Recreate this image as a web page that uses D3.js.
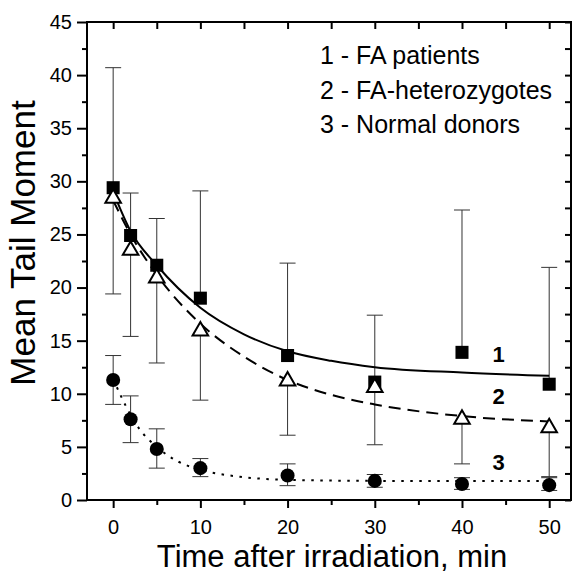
<!DOCTYPE html>
<html>
<head>
<meta charset="utf-8">
<script src="https://cdn.jsdelivr.net/npm/d3@7"></script>
<style>
  body { margin: 0; background: #fff; }
  svg { display: block; font-family: 'Liberation Sans', Arial, sans-serif; }
  .axis path { display: none; }
  .axis line { stroke: #000; stroke-width: 2; }
  .axis text { font-size: 20px; fill: #000; font-family: 'Liberation Sans', Arial, sans-serif; }
  .err { stroke: #333; stroke-width: 1; }
  .fit { fill: none; stroke: #000; stroke-width: 2; }
</style>
</head>
<body>
<script>
// ========== Data ==========
const times = [0, 2, 5, 10, 20, 30, 40, 50];

// 1 - FA patients (squares, bars drawn upward)
const faPatients      = [29.4, 24.9, 22.1, 19.0, 13.6, 11.1, 13.9, 10.9];
const faPatientsUpper = [40.7, 28.9, 26.5, 29.1, 22.3, 17.4, 27.3, 21.9];

// 2 - FA-heterozygotes (open triangles, bars drawn downward)
const faHeterozygotes      = [28.4, 23.5, 20.9, 15.9, 11.2, 10.6, 7.6, 6.8];
const faHeterozygotesLower = [19.4, 15.4, 12.9, 9.4, 6.1, 5.2, 3.4, 2.1];

// 3 - Normal donors (circles, bars both ways)
const normalDonors      = [11.3, 7.6, 4.8, 3.0, 2.3, 1.8, 1.5, 1.4];
const normalDonorsUpper = [13.6, 9.8, 6.7, 3.9, 3.4, 2.4, 2.1, 2.2];
const normalDonorsLower = [9.0, 5.4, 3.0, 2.2, 1.35, 1.2, 1.0, 0.9];

// fitted decay curves
const fitTimes          = [0, 2, 5, 10, 15, 20, 25, 30, 40, 50];
const fitPatients       = [29.0, 25.3, 22.1, 18.1, 15.6, 14.0, 13.1, 12.5, 12.0, 11.7];
const fitHeterozygotes  = [28.2, 25.0, 21.2, 16.6, 13.5, 11.3, 9.9, 9.0, 7.9, 7.4];
const fitDonorTimes     = [0, 1, 2, 3, 5, 7.5, 10, 15, 20, 30, 40, 50];
const fitDonors         = [11.4, 9.6, 8.0, 6.7, 5.0, 3.6, 2.85, 2.15, 1.9, 1.8, 1.8, 1.8];

// ticks and labels
const xTicks = [0, 10, 20, 30, 40, 50];
const xMinorTicks = [5, 15, 25, 35, 45];
const yTicks = [0, 5, 10, 15, 20, 25, 30, 35, 40, 45];
const yMinorTicks = [2.5, 7.5, 12.5, 17.5, 22.5, 27.5, 32.5, 37.5, 42.5];
const legendLabels = ['1 - FA patients', '2 - FA-heterozygotes', '3 - Normal donors'];
const curveLabels = ['1', '2', '3'];
const xTitle = 'Time after irradiation, min';
const yTitle = 'Mean Tail Moment';


// ========== Config ==========
const config = {
  width: 575,
  height: 574,
  plot: { left: 87, right: 571, top: 22, bottom: 500 },
  capHalf: 8,
  legend: { x: 320, y: 64, step: 34.5, size: 25 },
  curveLabel: { x: 498.5, ys: [362, 404, 470], size: 22 }
};


// ========== Scales ==========
const x = d3.scaleLinear()
  .domain([-3, 52.5])
  .range([config.plot.left, config.plot.right]);

const y = d3.scaleLinear()
  .domain([0, 45])
  .range([config.plot.bottom, config.plot.top]);


// ========== SVG ==========
const svg = d3.select('body')
  .append('svg')
  .attr('width', config.width)
  .attr('height', config.height);


// ========== Axes ==========
// bottom
svg.append('g')
  .attr('class', 'axis')
  .attr('transform', `translate(0,${config.plot.bottom})`)
  .call(d3.axisBottom(x).tickValues(xTicks).tickSize(8).tickSizeOuter(0).tickPadding(12).tickFormat(d3.format('d')));

svg.append('g')
  .attr('class', 'axis')
  .attr('transform', `translate(0,${config.plot.bottom})`)
  .call(d3.axisBottom(x).tickValues(xMinorTicks).tickSize(5).tickSizeOuter(0).tickFormat(''));

// top (ticks pointing in)
svg.append('g')
  .attr('class', 'axis')
  .attr('transform', `translate(0,${config.plot.top})`)
  .call(d3.axisBottom(x).tickValues(xTicks.concat(xMinorTicks)).tickSize(7).tickSizeOuter(0).tickFormat(''));

// left
svg.append('g')
  .attr('class', 'axis')
  .attr('transform', `translate(${config.plot.left},0)`)
  .call(d3.axisLeft(y).tickValues(yTicks).tickSize(10).tickSizeOuter(0).tickPadding(5).tickFormat(d3.format('d')));

svg.append('g')
  .attr('class', 'axis')
  .attr('transform', `translate(${config.plot.left},0)`)
  .call(d3.axisLeft(y).tickValues(yMinorTicks).tickSize(5).tickSizeOuter(0).tickFormat(''));

// right (ticks pointing in)
svg.append('g')
  .attr('class', 'axis')
  .attr('transform', `translate(${config.plot.right},0)`)
  .call(d3.axisLeft(y).tickValues(yTicks.concat(yMinorTicks)).tickSize(6).tickSizeOuter(0).tickFormat(''));

// frame
svg.append('rect')
  .attr('x', config.plot.left)
  .attr('y', config.plot.top)
  .attr('width', config.plot.right - config.plot.left)
  .attr('height', config.plot.bottom - config.plot.top)
  .attr('fill', 'none')
  .attr('stroke', '#000')
  .attr('stroke-width', 2);


// ========== Error Bars ==========
const errorSets = [
  { values: faPatients, bounds: faPatientsUpper },
  { values: faHeterozygotes, bounds: faHeterozygotesLower },
  { values: normalDonors, bounds: normalDonorsUpper },
  { values: normalDonors, bounds: normalDonorsLower }
];

errorSets.forEach(set =>{
  const rows = times.map((t, i) => ({ t: t, v: set.values[i], b: set.bounds[i] }));
  const g = svg.append('g').attr('class', 'err');

  g.selectAll('line.stem')
    .data(rows)
    .enter().append('line')
      .attr('class', 'stem')
      .attr('x1', d => x(d.t))
      .attr('x2', d => x(d.t))
      .attr('y1', d => y(d.v))
      .attr('y2', d => y(d.b));

  g.selectAll('line.cap')
    .data(rows)
    .enter().append('line')
      .attr('class', 'cap')
      .attr('x1', d => x(d.t) - config.capHalf)
      .attr('x2', d => x(d.t) + config.capHalf)
      .attr('y1', d => y(d.b))
      .attr('y2', d => y(d.b));
});


// ========== Fit Curves ==========
const lineGenerator = d3.line()
  .x(d => x(d[0]))
  .y(d => y(d[1]))
  .curve(d3.curveMonotoneX);

svg.append('path')
  .attr('class', 'fit')
  .attr('d', lineGenerator(d3.zip(fitTimes, fitPatients)));

svg.append('path')
  .attr('class', 'fit')
  .attr('stroke-dasharray', '12,7')
  .attr('d', lineGenerator(d3.zip(fitTimes, fitHeterozygotes)));

svg.append('path')
  .attr('class', 'fit')
  .attr('stroke-width', 2.5)
  .attr('stroke-dasharray', '2.5,6.5')
  .attr('d', lineGenerator(d3.zip(fitDonorTimes, fitDonors)));


// ========== Markers ==========
const markerSets = [
  { values: faPatients, type: d3.symbolSquare, size: 170, fill: '#000', stroke: 'none' },
  { values: faHeterozygotes, type: d3.symbolTriangle, size: 105, fill: '#fff', stroke: '#000' },
  { values: normalDonors, type: d3.symbolCircle, size: 155, fill: '#000', stroke: 'none' }
];

markerSets.forEach(set =>{
  svg.append('g')
    .selectAll('path')
    .data(times.map((t, i) => [t, set.values[i]]))
    .enter().append('path')
      .attr('transform', d => `translate(${x(d[0])},${y(d[1])})`)
      .attr('d', d3.symbol().type(set.type).size(set.size))
      .attr('fill', set.fill)
      .attr('stroke', set.stroke)
      .attr('stroke-width', 2);
});


// ========== Labels ==========
svg.append('g')
  .selectAll('text')
  .data(legendLabels)
  .enter().append('text')
    .attr('x', config.legend.x)
    .attr('y', (d, i) => config.legend.y + i*config.legend.step)
    .attr('font-size', config.legend.size)
    .text(d => d);

svg.append('g')
  .selectAll('text')
  .data(curveLabels)
  .enter().append('text')
    .attr('x', config.curveLabel.x)
    .attr('y', (d, i) => config.curveLabel.ys[i])
    .attr('text-anchor', 'middle')
    .attr('font-weight', 'bold')
    .attr('font-size', config.curveLabel.size)
    .text(d => d);

svg.append('text')
  .attr('x', 332)
  .attr('y', 567)
  .attr('text-anchor', 'middle')
  .attr('font-size', 31)
  .text(xTitle);

svg.append('text')
  .attr('transform', 'translate(35,243) rotate(-90)')
  .attr('text-anchor', 'middle')
  .attr('font-size', 35)
  .text(yTitle);
</script>
</body>
</html>
